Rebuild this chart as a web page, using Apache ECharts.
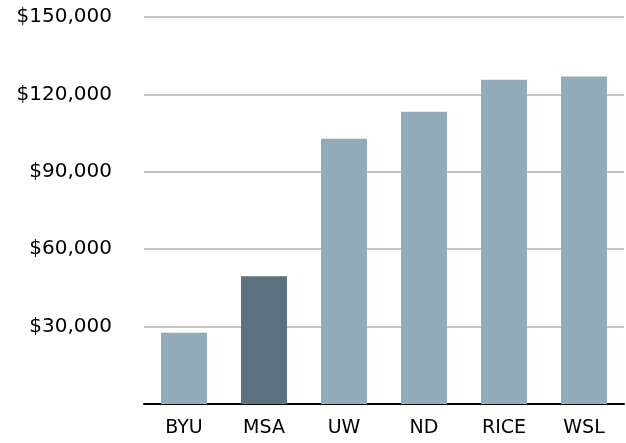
<!DOCTYPE html>
<html><head><meta charset="utf-8">
<script src="https://cdn.jsdelivr.net/npm/echarts@6/dist/echarts.min.js"></script>
<style>html,body{margin:0;padding:0;background:#fff}#c{width:626px;height:443px}</style>
</head><body><div id="c"></div>
<script>
const categories = ['BYU','MSA','UW','ND','RICE','WSL'];
const values = [27600, 49500, 102800, 113300, 125700, 126900];
const highlight = 'MSA';
const chart = echarts.init(document.getElementById('c'));
chart.setOption({
  animation:false,
  grid:{left:144,right:2,top:17,bottom:39},
  xAxis:{type:'category',data:categories,
    axisLine:{lineStyle:{color:'#000',width:2}},axisTick:{show:false},
    axisLabel:{color:'#000',fontFamily:'DejaVu Sans',fontSize:19,margin:15}},
  yAxis:{type:'value',min:0,max:150000,interval:30000,
    axisLine:{show:false},axisTick:{show:false},
    splitLine:{lineStyle:{color:'#c4c4c4',width:2}},
    axisLabel:{color:'#000',fontFamily:'DejaVu Sans',fontSize:20,margin:32,
      formatter:v=> v===0?'':'$'+v.toLocaleString('en-US')}},
  series:[{type:'bar',barWidth:'57.5%',
    data:values.map((v,i)=>({value:v,itemStyle:{color:categories[i]===highlight?'#5b717e':'#91abb8'}}))}]
});
</script></body></html>
